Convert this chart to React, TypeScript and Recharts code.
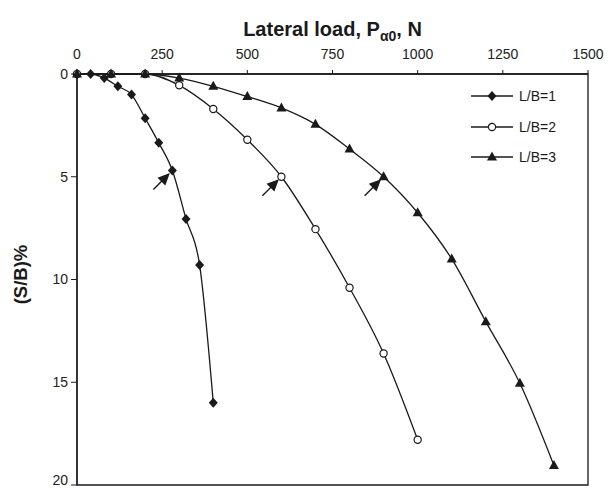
import React from "react";
import { LineChart, Line, XAxis, YAxis, ReferenceDot, ReferenceArea } from "recharts";

// lateral load (N) and settlement ratio S/B (%) per footing aspect ratio
const loadLB1 = [0, 40, 80, 120, 160, 200, 240, 280, 320, 360, 400];
const settleLB1 = [0, 0, 0.2, 0.6, 1.0, 2.15, 3.35, 4.7, 7.05, 9.3, 16.0];

const loadLB2 = [0, 100, 200, 300, 400, 500, 600, 700, 800, 900, 1000];
const settleLB2 = [0, 0, 0, 0.55, 1.7, 3.2, 5.0, 7.55, 10.4, 13.6, 17.8];

const loadLB3 = [0, 100, 200, 300, 400, 500, 600, 700, 800, 900, 1000, 1100, 1200, 1300, 1400];
const settleLB3 = [0, 0, 0, 0.2, 0.6, 1.1, 1.65, 2.45, 3.65, 5.0, 6.75, 9.0, 12.05, 15.05, 19.05];

const seriesNames = ["L/B=1", "L/B=2", "L/B=3"];
const xTicks = [0, 250, 500, 750, 1000, 1250, 1500];
const yTicks = [0, 5, 10, 15, 20];

// points marked with an arrow (ultimate load)
const arrowLoads = [280, 600, 900];
const arrowSettle = [4.7, 5.0, 5.0];

const toPoints = (xs: number[], ys: number[]) => xs.map((x, i) => ({ x, y: ys[i] }));
const lb1 = toPoints(loadLB1, settleLB1);
const lb2 = toPoints(loadLB2, settleLB2);
const lb3 = toPoints(loadLB3, settleLB3);
const arrows = toPoints(arrowLoads, arrowSettle);

const FONT = "Arial, 'Liberation Sans', sans-serif";
const INK = "#1a1a1a";

function Diamond({ cx, cy }: { cx: number; cy: number }) {
  return <path d={`M${cx},${cy - 5}L${cx + 4.5},${cy}L${cx},${cy + 5}L${cx - 4.5},${cy}Z`} fill={INK} />;
}
function Circle({ cx, cy }: { cx: number; cy: number }) {
  return <circle cx={cx} cy={cy} r={3.6} fill="#fff" stroke={INK} strokeWidth={1.2} />;
}
function Triangle({ cx, cy }: { cx: number; cy: number }) {
  return <path d={`M${cx},${cy - 5.5}L${cx + 5},${cy + 3.5}L${cx - 5},${cy + 3.5}Z`} fill={INK} />;
}
const markers = [Diamond, Circle, Triangle];

const dotFor = (i: number) => (p: any) => {
  const M = markers[i];
  if (p.cx == null || p.cy == null) return <g key={p.index} />;
  return <M key={`${i}-${p.index}`} cx={p.cx} cy={p.cy} />;
};

function Arrow(p: any) {
  const { cx, cy } = p;
  if (cx == null) return <g />;
  const tipX = cx - 2.5, tipY = cy + 2.5;
  const tailX = cx - 19, tailY = cy + 19;
  const d = 0.7071;
  const bx = tipX - d * 12, by = tipY + d * 12;
  return (
    <g>
      <line x1={tailX} y1={tailY} x2={bx + 2} y2={by - 2} stroke={INK} strokeWidth={1.4} />
      <path d={`M${tipX},${tipY}L${bx + d * 5.5},${by + d * 5.5}L${bx - d * 5.5},${by - d * 5.5}Z`} fill={INK} />
    </g>
  );
}

function TitleLabel(p: any) {
  const vb = p.viewBox || { x: 77, y: 40, width: 511 };
  return (
    <text x={vb.x + vb.width / 2} y={vb.y - 4} textAnchor="middle" fontFamily={FONT} fontWeight="bold" fontSize={20} fill={INK}>
      Lateral load, P
      <tspan fontSize={14} dy={5}>α0</tspan>
      <tspan fontSize={20} dy={-5}>, N</tspan>
    </text>
  );
}

function YTitle(p: any) {
  const vb = p.viewBox || { x: 10, y: 74, height: 411 };
  const x = vb.x + 10;
  const y = vb.y + vb.height / 2 - 5;
  return (
    <text x={x} y={y} transform={`rotate(-90 ${x} ${y})`} textAnchor="middle" dominantBaseline="central"
      fontFamily={FONT} fontWeight="bold" fontSize={18.5} fill={INK}>
      (S/B)%
    </text>
  );
}

function LegendBox() {
  return (
    <div style={{ position: "absolute", top: 81, left: 471, fontFamily: FONT, fontSize: 14, color: INK }}>
      {seriesNames.map((name, i) => {
        const M = markers[i];
        return (
          <div key={name} style={{ display: "flex", alignItems: "center", height: 30.5 }}>
            <svg width={44} height={14} style={{ display: "block" }}>
              <line x1={0} y1={7} x2={42} y2={7} stroke={INK} strokeWidth={1.3} />
              <M cx={21} cy={7} />
            </svg>
            <span style={{ marginLeft: 4 }}>{name}</span>
          </div>
        );
      })}
    </div>
  );
}

export default function App() {
  return (
    <div style={{ position: "absolute", left: 0, top: 0, width: 608, height: 488, background: "#fff" }}>
      <LineChart width={608} height={488} margin={{ top: 40, right: 20, bottom: 3, left: 10 }}>
        <XAxis
          type="number"
          dataKey="x"
          orientation="top"
          domain={[0, 1500]}
          ticks={xTicks}
          height={34}
          tickSize={4}
          tickMargin={11}
          axisLine={{ stroke: INK, strokeWidth: 1.3 }}
          tickLine={{ stroke: INK, strokeWidth: 1 }}
          tick={{ fontSize: 14, fill: "#222", fontFamily: FONT }}
          label={{ content: TitleLabel }}
        />
        <YAxis
          type="number"
          dataKey="y"
          reversed
          domain={[0, 20]}
          ticks={yTicks}
          width={67}
          tickSize={6}
          tickMargin={3}
          axisLine={{ stroke: INK, strokeWidth: 1.3 }}
          tickLine={{ stroke: INK, strokeWidth: 1 }}
          tick={{ fontSize: 14, fill: "#222", fontFamily: FONT }}
          label={{ content: YTitle }}
        />
        <ReferenceArea x1={0} x2={1500} y1={0} y2={20} fill="none" stroke={INK} strokeWidth={1.3} ifOverflow="visible" />
        {[lb1, lb2, lb3].map((d, i) => (
          <Line
            key={seriesNames[i]}
            name={seriesNames[i]}
            data={d}
            dataKey="y"
            type="monotone"
            stroke={INK}
            strokeWidth={1.3}
            dot={dotFor(i)}
            activeDot={false}
            isAnimationActive={false}
          />
        ))}
        {arrows.map((a, i) => (
          <ReferenceDot key={i} x={a.x} y={a.y} r={0} shape={Arrow} ifOverflow="visible" />
        ))}
      </LineChart>
      <LegendBox />
    </div>
  );
}
